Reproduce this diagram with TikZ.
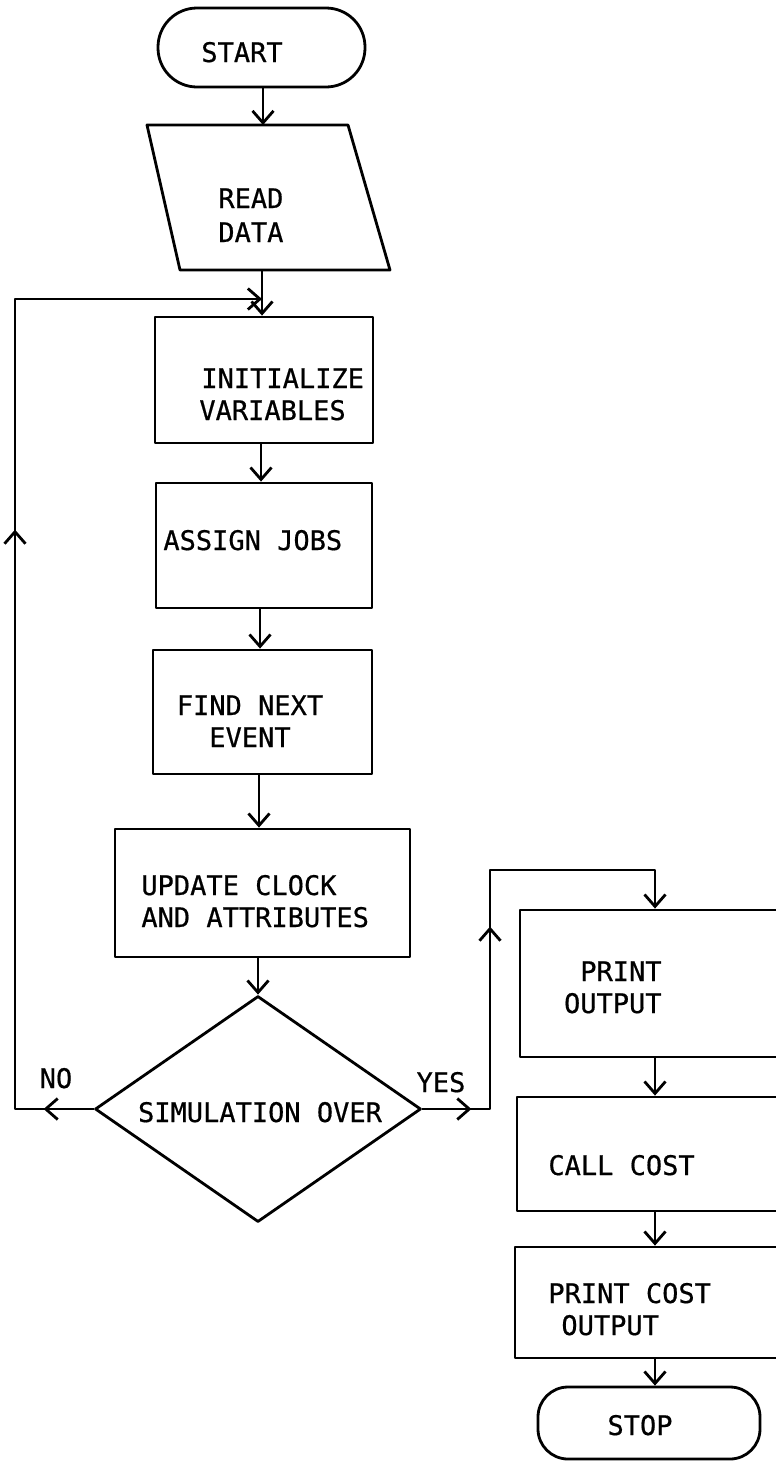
\documentclass[tikz,border=0pt]{standalone}
\usepackage{fontspec}
\newfontfamily\monof[FakeBold=0.6]{DejaVu Sans Mono}
\usetikzlibrary{arrows.meta,shapes.geometric,decorations.markings}
\tikzset{tipA/.tip={Straight Barb[length=12pt,width=21pt]}}
\begin{document}
\begin{tikzpicture}[x=1pt,y=-1pt,line width=2.8pt,line join=round,
  box/.style={draw,rectangle,inner sep=0pt},
  term/.style={draw,rectangle,rounded corners=#1,inner sep=0pt},
  txt/.style={font=\monof\fontsize{27}{32}\selectfont,inner sep=0pt},
  arr/.style={-tipA}]
\useasboundingbox (0,0) rectangle (776,1462);
\clip (0,0) rectangle (776,1462);

% START
\node[term=39pt,minimum width=207pt,minimum height=79pt] (start) at (261.5,47.5) {};
\node[txt,anchor=base] (startT) at (242,62) {START};

% READ DATA (input parallelogram)
\coordinate (rdA) at (147,125);
\coordinate (rdB) at (348,125);
\coordinate (rdC) at (390,270);
\coordinate (rdD) at (180,270);
\draw (rdA) -- (rdB) -- (rdC) -- (rdD) -- cycle;
\coordinate (readT) at (263,125);
\coordinate (readB) at (262,270);
\node[txt,anchor=base west] (read1) at (217,208) {READ};
\node[txt,anchor=base west] (read2) at (217,242) {DATA};

% INITIALIZE VARIABLES
\node[box,minimum width=218pt,minimum height=126pt] (init) at (264,380) {};
\node[txt,anchor=base west] (init1) at (200,388) {INITIALIZE};
\node[txt,anchor=base west] (init2) at (198,420) {VARIABLES};

% ASSIGN JOBS
\node[box,minimum width=216pt,minimum height=125pt] (assign) at (264,545.5) {};
\node[txt,anchor=base west] (assign1) at (162,550) {ASSIGN JOBS};

% FIND NEXT EVENT
\node[box,minimum width=219pt,minimum height=124pt] (find) at (262.5,712) {};
\node[txt,anchor=base] (find1) at (250,715) {FIND NEXT};
\node[txt,anchor=base] (find2) at (250,747) {EVENT};

% UPDATE CLOCK AND ATTRIBUTES
\node[box,minimum width=295pt,minimum height=128pt] (update) at (262.5,893) {};
\node[txt,anchor=base west] (update1) at (140,895) {UPDATE CLOCK};
\node[txt,anchor=base west] (update2) at (140,927) {AND ATTRIBUTES};

% SIMULATION OVER
\node[draw,diamond,minimum width=326pt,minimum height=226pt,inner sep=0pt] (dec) at (258,1109) {};
\node[txt,anchor=base] (dec1) at (260,1122) {SIMULATION OVER};
\node[txt,anchor=base] (no) at (56,1088) {NO};
\node[txt,anchor=base] (yes) at (441,1092) {YES};

% right column
\node[box,minimum width=270pt,minimum height=147pt] (pout) at (655,983.5) {};
\node[txt,anchor=base east] (pout1) at (663,981) {PRINT};
\node[txt,anchor=base east] (pout2) at (663,1013) {OUTPUT};

\node[box,minimum width=276pt,minimum height=114pt] (call) at (655,1154) {};
\node[txt,anchor=base west] (call1) at (547,1175) {CALL COST};

\node[box,minimum width=280pt,minimum height=111pt] (pcost) at (655,1302.5) {};
\node[txt,anchor=base west] (pcost1) at (547,1303) {PRINT COST};
\node[txt,anchor=base west] (pcost2) at (560,1335) {OUTPUT};

\node[term=30pt,minimum width=222pt,minimum height=72pt] (stop) at (649,1423) {};
\node[txt,anchor=base] (stopT) at (640,1435) {STOP};

% main column connectors
\draw[arr] ([xshift=1.5pt]start.south) -- (readT);
\draw[arr] (readB) -- ([xshift=-2pt]init.north);
\draw[arr] ([xshift=-3pt]init.south) -- ([xshift=-3pt]assign.north);
\draw[arr] ([xshift=-4pt]assign.south) -- ([xshift=-2.5pt]find.north);
\draw[arr] ([xshift=-3.5pt]find.south) -- ([xshift=-3.5pt]update.north);
\draw[arr] ([xshift=-4.5pt]update.south) -- (dec.north);

% NO loop
\coordinate (noC) at (15,1109);
\coordinate (topC) at (15,299);
\coordinate (join) at (262,299);
\draw[arr,decoration={markings,
   mark=at position 50pt with {\arrow{tipA}},
   mark=at position 658pt with {\arrow{tipA}}},postaction=decorate]
  (dec.west) -- (noC) -- (topC) -- (join);

% YES path
\coordinate (yesC) at (490,1109);
\coordinate (yesT) at (490,870);
\coordinate (yesR) at (655,870);
\draw[arr,decoration={markings,
   mark=at position 49pt with {\arrow{tipA}},
   mark=at position 250pt with {\arrow{tipA}}},postaction=decorate]
  (dec.east) -- (yesC) -- (yesT) -- (yesR) -- (pout.north);

\draw[arr] (pout.south) -- (call.north);
\draw[arr] (call.south) -- (pcost.north);
\draw[arr] (pcost.south) -- (pcost.south |- stop.north);
\end{tikzpicture}
\end{document}
